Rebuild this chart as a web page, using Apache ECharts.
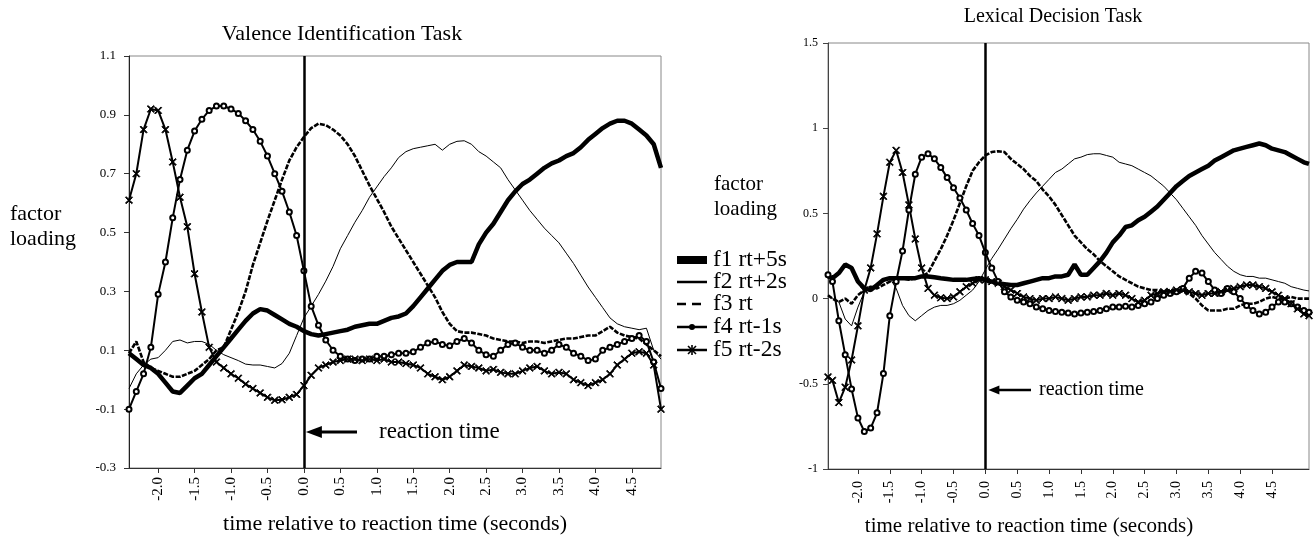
<!DOCTYPE html>
<html>
<head>
<meta charset="utf-8">
<title>Factor loadings relative to reaction time</title>
<script src="https://cdn.jsdelivr.net/npm/echarts@6/dist/echarts.min.js"></script>
<style>
  html, body { margin: 0; padding: 0; background: #fff; }
  #chart { width: 1315px; height: 537px; }
</style>
</head>
<body>
<div id="chart"></div>
<script>
var SERIF = '"Liberation Serif", "Times New Roman", serif';

// time relative to reaction time (s)
var timeValence = [
  -2.4, -2.3, -2.2, -2.1, -2.0, -1.9, -1.8, -1.7, -1.6, -1.5,
  -1.4, -1.3, -1.2, -1.1, -1.0, -0.9, -0.8, -0.7, -0.6, -0.5,
  -0.4, -0.3, -0.2, -0.1, 0.0, 0.1, 0.2, 0.3, 0.4, 0.5,
  0.6, 0.7, 0.8, 0.9, 1.0, 1.1, 1.2, 1.3, 1.4, 1.5,
  1.6, 1.7, 1.8, 1.9, 2.0, 2.1, 2.2, 2.3, 2.4, 2.5,
  2.6, 2.7, 2.8, 2.9, 3.0, 3.1, 3.2, 3.3, 3.4, 3.5,
  3.6, 3.7, 3.8, 3.9, 4.0, 4.1, 4.2, 4.3, 4.4, 4.5,
  4.6, 4.7, 4.8, 4.9];
var timeLexical = [
  -2.47,
  -2.4, -2.3, -2.2, -2.1, -2.0, -1.9, -1.8, -1.7, -1.6, -1.5,
  -1.4, -1.3, -1.2, -1.1, -1.0, -0.9, -0.8, -0.7, -0.6, -0.5,
  -0.4, -0.3, -0.2, -0.1, 0.0, 0.1, 0.2, 0.3, 0.4, 0.5,
  0.6, 0.7, 0.8, 0.9, 1.0, 1.1, 1.2, 1.3, 1.4, 1.5,
  1.6, 1.7, 1.8, 1.9, 2.0, 2.1, 2.2, 2.3, 2.4, 2.5,
  2.6, 2.7, 2.8, 2.9, 3.0, 3.1, 3.2, 3.3, 3.4, 3.5,
  3.6, 3.7, 3.8, 3.9, 4.0, 4.1, 4.2, 4.3, 4.4, 4.5,
  4.6, 4.7, 4.8, 4.9, 5.0,
  5.08];

var xTicks = [-2.0, -1.5, -1.0, -0.5, 0.0, 0.5, 1.0, 1.5, 2.0, 2.5, 3.0, 3.5, 4.0, 4.5];
var valenceTicks = [-0.3, -0.1, 0.1, 0.3, 0.5, 0.7, 0.9, 1.1];
var lexicalTicks = [-1, -0.5, 0, 0.5, 1, 1.5];

var factorNames = ['f1 rt+5s', 'f2 rt+2s', 'f3 rt', 'f4 rt-1s', 'f5 rt-2s'];

// Valence Identification Task
var valF1 = [
  0.09, 0.07, 0.05, 0.04, 0.02, -0.01, -0.04, -0.045, -0.02, 0.005,
  0.02, 0.05, 0.08, 0.11, 0.14, 0.17, 0.20, 0.225, 0.24, 0.235,
  0.22, 0.205, 0.19, 0.18, 0.165, 0.155, 0.15, 0.155, 0.16, 0.165,
  0.17, 0.18, 0.185, 0.19, 0.19, 0.20, 0.21, 0.215, 0.225, 0.25,
  0.28, 0.31, 0.34, 0.37, 0.39, 0.40, 0.40, 0.40, 0.46, 0.50,
  0.53, 0.57, 0.61, 0.64, 0.665, 0.68, 0.70, 0.72, 0.735, 0.745,
  0.76, 0.77, 0.79, 0.815, 0.835, 0.855, 0.87, 0.88, 0.88, 0.87,
  0.85, 0.83, 0.80, 0.72];
var valF2 = [
  -0.03, 0.02, 0.05, 0.07, 0.075, 0.10, 0.13, 0.135, 0.125, 0.13,
  0.13, 0.12, 0.10, 0.085, 0.075, 0.065, 0.053, 0.05, 0.05, 0.045,
  0.04, 0.055, 0.09, 0.15, 0.21, 0.25, 0.29, 0.335, 0.385, 0.445,
  0.49, 0.535, 0.575, 0.62, 0.655, 0.69, 0.72, 0.755, 0.775, 0.785,
  0.79, 0.795, 0.80, 0.78, 0.80, 0.81, 0.812, 0.80, 0.775, 0.76,
  0.74, 0.72, 0.68, 0.645, 0.61, 0.575, 0.545, 0.515, 0.49, 0.465,
  0.43, 0.395, 0.355, 0.315, 0.28, 0.245, 0.21, 0.19, 0.18, 0.175,
  0.17, 0.175, 0.10, 0.07];
var valF3 = [
  0.09, 0.13, 0.06, 0.04, 0.03, 0.02, 0.01, 0.01, 0.02, 0.03,
  0.05, 0.07, 0.10, 0.11, 0.17, 0.23, 0.30, 0.39, 0.465, 0.54,
  0.61, 0.68, 0.745, 0.79, 0.825, 0.855, 0.87, 0.865, 0.85, 0.83,
  0.80, 0.76, 0.71, 0.66, 0.615, 0.57, 0.52, 0.48, 0.44, 0.40,
  0.36, 0.32, 0.28, 0.23, 0.19, 0.165, 0.16, 0.16, 0.155, 0.15,
  0.14, 0.135, 0.13, 0.13, 0.125, 0.13, 0.13, 0.125, 0.13, 0.135,
  0.14, 0.14, 0.145, 0.15, 0.15, 0.165, 0.18, 0.16, 0.15, 0.145,
  0.14, 0.12, 0.10, 0.08];
var valF4 = [
  -0.10, -0.04, 0.02, 0.11, 0.29, 0.40, 0.55, 0.68, 0.78, 0.845,
  0.885, 0.915, 0.93, 0.93, 0.92, 0.905, 0.88, 0.85, 0.81, 0.76,
  0.70, 0.64, 0.57, 0.49, 0.37, 0.25, 0.185, 0.135, 0.10, 0.08,
  0.07, 0.065, 0.07, 0.07, 0.08, 0.08, 0.085, 0.09, 0.09, 0.095,
  0.11, 0.125, 0.13, 0.12, 0.115, 0.13, 0.14, 0.125, 0.10, 0.085,
  0.08, 0.10, 0.12, 0.125, 0.11, 0.10, 0.10, 0.09, 0.10, 0.12,
  0.11, 0.09, 0.08, 0.065, 0.07, 0.10, 0.11, 0.12, 0.13, 0.14,
  0.15, 0.13, 0.06, -0.03];
var valF5 = [
  0.61, 0.70, 0.85, 0.92, 0.915, 0.85, 0.74, 0.62, 0.52, 0.36,
  0.23, 0.11, 0.06, 0.04, 0.02, 0.005, -0.015, -0.03, -0.045, -0.06,
  -0.07, -0.068, -0.06, -0.05, -0.02, 0.015, 0.04, 0.05, 0.06, 0.065,
  0.07, 0.07, 0.065, 0.07, 0.065, 0.07, 0.06, 0.06, 0.055, 0.05,
  0.04, 0.02, 0.01, 0.0, 0.01, 0.03, 0.05, 0.045, 0.04, 0.03,
  0.035, 0.025, 0.02, 0.02, 0.03, 0.04, 0.045, 0.03, 0.02, 0.025,
  0.02, 0.0, -0.01, -0.02, -0.01, 0.0, 0.02, 0.05, 0.07, 0.09,
  0.095, 0.09, 0.05, -0.10];

// Lexical Decision Task
var lexF1 = [
  0.13,
  0.12, 0.15, 0.20, 0.18, 0.10, 0.06, 0.05, 0.08, 0.11, 0.12,
  0.12, 0.12, 0.12, 0.12, 0.13, 0.13, 0.125, 0.12, 0.115, 0.11,
  0.11, 0.11, 0.115, 0.12, 0.11, 0.10, 0.09, 0.085, 0.08, 0.08,
  0.09, 0.10, 0.11, 0.12, 0.12, 0.13, 0.13, 0.14, 0.20, 0.14,
  0.14, 0.18, 0.22, 0.27, 0.33, 0.37, 0.42, 0.43, 0.46, 0.48,
  0.51, 0.54, 0.58, 0.62, 0.66, 0.69, 0.72, 0.74, 0.76, 0.78,
  0.81, 0.83, 0.85, 0.87, 0.88, 0.89, 0.90, 0.91, 0.90, 0.88,
  0.87, 0.86, 0.84, 0.82, 0.80,
  0.79];
var lexF2 = [
  0.02,
  0.0, -0.02, -0.12, -0.16, -0.05, 0.04, 0.06, 0.08, 0.10, 0.12,
  0.06, -0.04, -0.10, -0.13, -0.10, -0.07, -0.05, -0.04, -0.04, -0.03,
  -0.01, 0.02, 0.05, 0.10, 0.17, 0.235, 0.29, 0.35, 0.41, 0.465,
  0.525, 0.575, 0.62, 0.66, 0.70, 0.74, 0.76, 0.79, 0.82, 0.83,
  0.845, 0.85, 0.85, 0.84, 0.83, 0.80, 0.79, 0.78, 0.76, 0.74,
  0.72, 0.69, 0.66, 0.62, 0.58, 0.53, 0.48, 0.43, 0.37, 0.32,
  0.27, 0.23, 0.19, 0.16, 0.14, 0.13, 0.13, 0.12, 0.12, 0.11,
  0.10, 0.09, 0.07, 0.06, 0.05,
  0.045];
var lexF3 = [
  0.02,
  0.0, -0.02, 0.0, -0.03, 0.02, 0.05, 0.07, 0.06, 0.08, 0.10,
  0.12, 0.12, 0.11, 0.12, 0.13, 0.15, 0.22, 0.29, 0.37, 0.46,
  0.56, 0.66, 0.75, 0.80, 0.84, 0.86, 0.865, 0.86, 0.82, 0.79,
  0.76, 0.72, 0.69, 0.64, 0.60, 0.55, 0.49, 0.43, 0.37, 0.33,
  0.29, 0.26, 0.22, 0.19, 0.16, 0.13, 0.11, 0.09, 0.07, 0.06,
  0.05, 0.05, 0.04, 0.05, 0.05, 0.04, 0.03, 0.0, -0.04, -0.07,
  -0.07, -0.07, -0.06, -0.06, -0.04, -0.03, -0.03, -0.02, 0.0, 0.01,
  0.0, 0.0, 0.01, 0.0, 0.0,
  0.0];
var lexF4 = [
  0.14,
  0.10, -0.13, -0.33, -0.53, -0.70, -0.78, -0.76, -0.67, -0.44, -0.10,
  0.10, 0.28, 0.52, 0.73, 0.83, 0.85, 0.82, 0.77, 0.71, 0.65,
  0.59, 0.52, 0.44, 0.37, 0.27, 0.18, 0.10, 0.04, 0.01, -0.01,
  -0.02, -0.03, -0.05, -0.06, -0.07, -0.075, -0.08, -0.085, -0.09, -0.085,
  -0.08, -0.075, -0.07, -0.06, -0.05, -0.05, -0.045, -0.05, -0.04, -0.03,
  -0.02, 0.0, 0.02, 0.03, 0.04, 0.06, 0.12, 0.16, 0.15, 0.10,
  0.05, 0.03, 0.06, 0.04, 0.0, -0.04, -0.07, -0.09, -0.08, -0.05,
  -0.02, -0.02, -0.03, -0.05, -0.07,
  -0.08];
var lexF5 = [
  -0.46,
  -0.48, -0.61, -0.52, -0.36, -0.16, 0.05, 0.18, 0.38, 0.60, 0.80,
  0.87, 0.74, 0.55, 0.35, 0.18, 0.06, 0.02, 0.005, 0.0, 0.01,
  0.04, 0.07, 0.09, 0.11, 0.11, 0.10, 0.09, 0.07, 0.05, 0.03,
  0.01, 0.0, -0.01, 0.0, 0.0, 0.01, 0.0, -0.01, 0.0, 0.01,
  0.01, 0.02, 0.02, 0.03, 0.02, 0.03, 0.02, 0.0, -0.02, -0.01,
  0.02, 0.03, 0.04, 0.04, 0.05, 0.05, 0.04, 0.03, 0.02, 0.03,
  0.03, 0.04, 0.05, 0.06, 0.07, 0.08, 0.08, 0.07, 0.06, 0.04,
  0.02, 0.0, -0.03, -0.06, -0.09,
  -0.10];

var valenceSets = [valF1, valF2, valF3, valF4, valF5];
var lexicalSets = [lexF1, lexF2, lexF3, lexF4, lexF5];

// filled "x" marker used for f5
var crossPath = 'path://M0,1L1,0L5,4L9,0L10,1L6,5L10,9L9,10L5,6L1,10L0,9L4,5Z';

var pairUp = function (times, values) {
    return times.map(function (t, k) { return [t, values[k]]; });
};

var makeSeries = function (times, values, i, gridIdx) {
    var s = {
        name: factorNames[i],
        type: 'line',
        xAxisIndex: gridIdx,
        yAxisIndex: gridIdx,
        data: pairUp(times, values),
        animation: false,
        silent: true,
        showAllSymbol: true,
        symbol: 'none',
        itemStyle: { color: '#000', borderColor: '#000' },
        lineStyle: { color: '#000', width: 1 }
    };
    if (i === 0) {
        s.lineStyle.width = 4.5;
    } else if (i === 2) {
        s.lineStyle.width = 2.6;
        s.lineStyle.type = [5, 1.5];
    } else if (i === 3) {
        s.lineStyle.width = 2;
        s.symbol = 'emptyCircle';
        s.symbolSize = 5;
        s.itemStyle.borderWidth = 1.5;
    } else if (i === 4) {
        s.lineStyle.width = 2;
        s.symbol = crossPath;
        s.symbolSize = 7;
    }
    if (i === 0) {
        s.markLine = {
            silent: true,
            symbol: ['none', 'none'],
            label: { show: false },
            animation: false,
            lineStyle: { color: '#000', width: 2.5, type: 'solid' },
            data: [{ xAxis: 0 }]
        };
    }
    return s;
};

var series = [];
valenceSets.forEach(function (vals, i) { series.push(makeSeries(timeValence, vals, i, 0)); });
lexicalSets.forEach(function (vals, i) { series.push(makeSeries(timeLexical, vals, i, 1)); });

var xAxisBase = function (gridIdx, min, max, fontSize, margin) {
    return {
        type: 'value',
        gridIndex: gridIdx,
        min: min,
        max: max,
        axisLine: { onZero: false, lineStyle: { color: '#333', width: 1 } },
        axisTick: { customValues: xTicks, length: 5, lineStyle: { color: '#333' } },
        axisLabel: {
            customValues: xTicks,
            rotate: 90,
            margin: margin,
            color: '#000',
            fontFamily: SERIF,
            fontSize: fontSize,
            formatter: function (v) { return v.toFixed(1); }
        },
        splitLine: { show: false }
    };
};

var txt = function (x, y, text, size, align) {
    return {
        type: 'text', x: x, y: y, silent: true,
        style: {
            text: text, fill: '#000',
            font: size + 'px ' + SERIF,
            align: align || 'left', verticalAlign: 'middle',
            textAlign: align || 'left', textVerticalAlign: 'middle'
        }
    };
};

var seg = function (x1, y1, x2, y2, w, dash) {
    var st = { stroke: '#000', lineWidth: w };
    if (dash) { st.lineDash = dash; }
    return { type: 'line', silent: true, shape: { x1: x1, y1: y1, x2: x2, y2: y2 }, style: st };
};

var arrow = function (tipX, tailX, y, head, halfH, width) {
    return [
        seg(tipX + head - 1, y, tailX, y, width),
        { type: 'polygon', silent: true,
          shape: { points: [[tipX, y], [tipX + head, y - halfH], [tipX + head, y + halfH]] },
          style: { fill: '#000' } }
    ];
};

// legend keys drawn by hand so each matches the printed key
var legendKeys = function (x0, x1, rows) {
    var mid = (x0 + x1) / 2;
    var g = [];
    g.push({ type: 'rect', silent: true, shape: { x: x0, y: rows[0] - 4, width: x1 - x0, height: 8 }, style: { fill: '#000' } });
    g.push(seg(x0, rows[1], x1, rows[1], 2.5));
    g.push(seg(x0, rows[2], x0 + 9, rows[2], 2.5));
    g.push(seg(x0 + 15, rows[2], x0 + 24, rows[2], 2.5));
    g.push(seg(x0, rows[3], x1, rows[3], 2.5));
    g.push({ type: 'circle', silent: true, shape: { cx: mid, cy: rows[3], r: 3 }, style: { fill: '#000' } });
    g.push(seg(x0, rows[4], x1, rows[4], 2.5));
    g.push(seg(mid, rows[4] - 5, mid, rows[4] + 5, 1.6));
    g.push(seg(mid - 4, rows[4] - 4, mid + 4, rows[4] + 4, 1.6));
    g.push(seg(mid - 4, rows[4] + 4, mid + 4, rows[4] - 4, 1.6));
    factorNames.forEach(function (n, i) { g.push(txt(x1 + 6, rows[i], n, 23.5)); });
    return g;
};

var myChart = echarts.init(document.getElementById('chart'), null, { renderer: 'canvas' });

var option = {
    backgroundColor: '#fff',
    animation: false,
    grid: [
        { left: 129, right: 654, top: 56, bottom: 69, show: true, borderColor: '#888', borderWidth: 1 },
        { left: 828, right: 6, top: 43, bottom: 68, show: true, borderColor: '#888', borderWidth: 1 }
    ],
    xAxis: [xAxisBase(0, -2.4, 4.9, 15, 9), xAxisBase(1, -2.47, 5.08, 14, 12)],
    yAxis: [{
        type: 'value',
        gridIndex: 0,
        min: -0.3,
        max: 1.1,
        axisLine: { show: true, onZero: false, lineStyle: { color: '#222', width: 1 } },
        axisTick: { show: true, customValues: valenceTicks, length: 5, lineStyle: { color: '#333' } },
        axisLabel: {
            customValues: valenceTicks, margin: 13, color: '#000',
            fontFamily: SERIF, fontSize: 13,
            formatter: function (v) { return v.toFixed(1); }
        },
        splitLine: { show: false }
    }, {
        type: 'value',
        gridIndex: 1,
        min: -1,
        max: 1.5,
        axisLine: { show: true, onZero: false, lineStyle: { color: '#444', width: 1 } },
        axisTick: { show: true, customValues: lexicalTicks, length: 5, lineStyle: { color: '#444' } },
        axisLabel: {
            customValues: lexicalTicks, margin: 10, color: '#000',
            fontFamily: SERIF, fontSize: 12,
            formatter: function (v) { return String(v); }
        },
        splitLine: { show: false }
    }],
    series: series
};
myChart.setOption(option);

// labels, legend keys and the reaction-time arrows
var rt0 = myChart.convertToPixel({ xAxisIndex: 0 }, 0);
var rt1 = myChart.convertToPixel({ xAxisIndex: 1 }, 0);
var graphics = [
    txt(342, 34, 'Valence Identification Task', 22, 'center'),
    txt(1053, 17, 'Lexical Decision Task', 20, 'center'),
    txt(395, 524, 'time relative to reaction time (seconds)', 22, 'center'),
    txt(1029, 526, 'time relative to reaction time (seconds)', 21, 'center'),
    txt(10, 214, 'factor', 22),
    txt(10, 239, 'loading', 22),
    txt(714, 184, 'factor', 21),
    txt(714, 209, 'loading', 21),
    txt(379, 432, 'reaction time', 23),
    txt(1039, 390, 'reaction time', 20)
];
graphics = graphics.concat(arrow(rt0 + 2, 357, 432, 16, 6, 3));
graphics = graphics.concat(arrow(rt1 + 3, 1031, 390, 11, 4.5, 2.5));
graphics = graphics.concat(legendKeys(677, 707, [260, 282, 304, 327, 350]));
myChart.setOption({ graphic: graphics });
</script>
</body>
</html>
